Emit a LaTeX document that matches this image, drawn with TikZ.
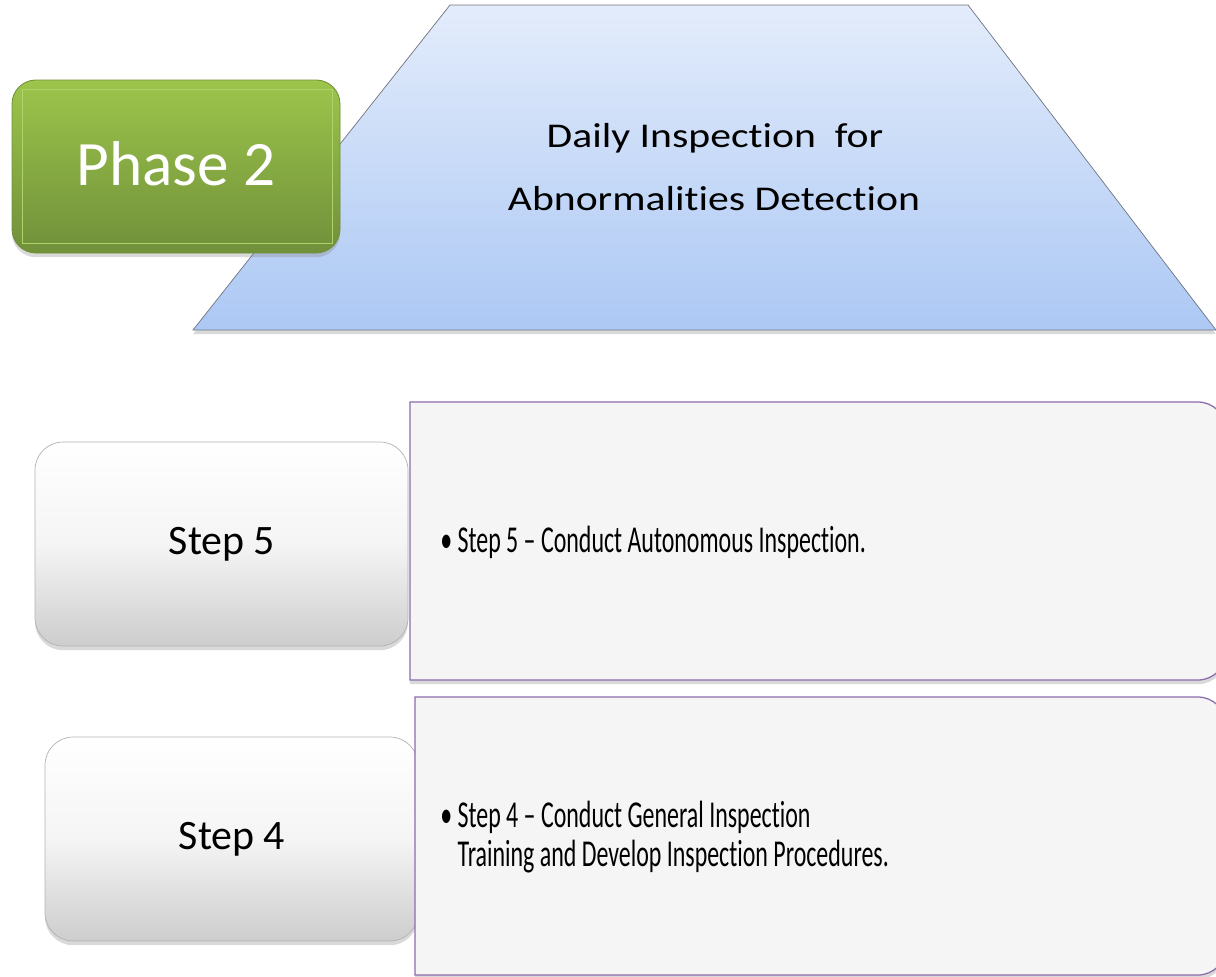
\documentclass[tikz,border=0pt]{standalone}
\usepackage{fontspec}
\setmainfont{Carlito}[Ligatures=NoCommon]
\newfontfamily\widefont{Carlito}[FakeStretch=1.2, Ligatures=NoCommon]
\newfontfamily\narrowfont{Carlito}[FakeStretch=0.63, Ligatures=NoCommon]
\usetikzlibrary{shadows}

\definecolor{trapTop}{HTML}{E3ECFB}
\definecolor{trapBot}{HTML}{ACC8F4}
\definecolor{trapLine}{HTML}{6E7480}
\definecolor{phaseTop}{HTML}{9DC54B}
\definecolor{phaseBot}{HTML}{70903A}
\definecolor{phaseLine}{HTML}{AFD26A}
\definecolor{stepBot}{HTML}{CDCDCD}
\definecolor{rboxFill}{HTML}{F5F5F5}
\definecolor{rboxLine}{HTML}{8A6CAB}

\tikzset{
	softshadow/.style={drop shadow={opacity=0.3, shadow xshift=0pt, shadow yshift=-3pt}},
	trapbox/.style={draw=trapLine, line width=0.5pt, top color=trapTop, bottom color=trapBot, softshadow},
	phasebox/.style={draw=phaseBot, line width=0.6pt, rounded corners=17pt, top color=phaseTop, bottom color=phaseBot, softshadow},
	stepbox/.style={draw=black!30, line width=0.5pt, rounded corners=20pt, top color=white, bottom color=stepBot, middle color=white!96!black, softshadow},
	rbox/.style={draw=rboxLine, line width=0.9pt, fill=rboxFill, softshadow},
	phaselabel/.style={inner sep=0pt, anchor=base, text=white, font=\fontsize{45}{50}\selectfont},
	traplabel/.style={inner sep=0pt, anchor=base, font=\widefont\fontsize{24.7}{30}\selectfont},
	steplabel/.style={inner sep=0pt, anchor=base, font=\fontsize{29.8}{34}\selectfont},
	itemlabel/.style={inner sep=0pt, anchor=base west, font=\narrowfont\fontsize{27}{28.4}\selectfont}
}

\begin{document}
\begin{tikzpicture}[x=0.025cm, y=-0.025cm]
	\useasboundingbox (0,0) rectangle (1216,976);
	\clip (0,0) rectangle (1216,976);

	% phase header
	\path[trapbox] (193,330) -- (450,5) -- (968,5) -- (1216,330) -- cycle;
	\node[traplabel] (trapA) at (715,147) {Daily Inspection\ \ for};
	\node[traplabel] (trapB) at (714,210) {Abnormalities Detection};

	\path[phasebox] (12,80) rectangle (340,253);
	\draw[phaseLine, line width=0.6pt] (22,89) rectangle (332,243);
	\node[phaselabel] (phase) at (176,185) {Phase 2};

	% step boxes on the left
	\foreach \n/\x/\y in {5/35/442, 4/45/737}{
		\path[stepbox] (\x,\y) rectangle (\x+373,\y+204);
		\node[steplabel] (step\n) at (\x+187,\y+112) {Step \n};
	}

	% detail boxes on the right
	\foreach \n/\x/\y in {5/410/402, 4/415/697}{
		\draw[rbox] (\x,\y+278) -- (\x,\y) [rounded corners=20pt] -- (1226,\y) -- (1226,\y+278) [sharp corners] -- cycle;
	}
	\node[itemlabel] (item5) at (440,552) {\textbullet\ Step 5 – Conduct Autonomous Inspection.};
	\node[itemlabel] (item4) at (440,827) {\textbullet\ Step 4 – Conduct General Inspection};
	\node[itemlabel] (item4b) at (item4.base west) [yshift=-28.4pt] {\phantom{\textbullet\ }Training and Develop Inspection Procedures.};

\end{tikzpicture}
\end{document}
